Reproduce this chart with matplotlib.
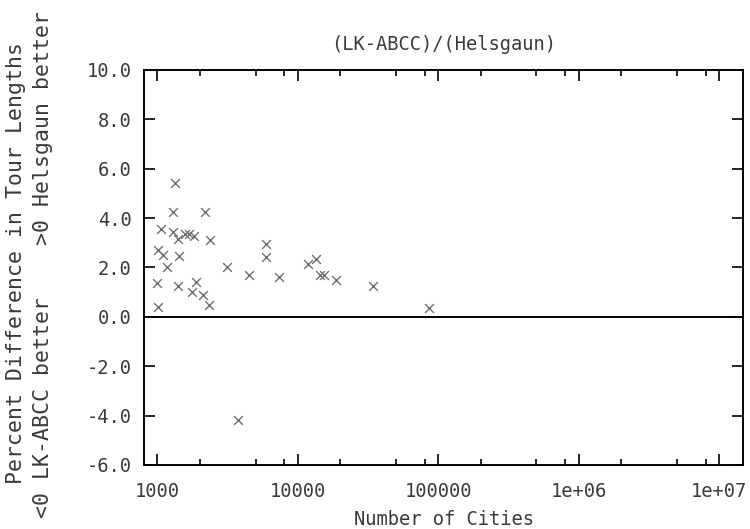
import matplotlib
matplotlib.use("Agg")
import matplotlib.pyplot as plt
import numpy as np
from matplotlib.ticker import FixedLocator, FixedFormatter

# Data: number of cities vs percent difference in tour lengths
cities = [1337, 1300, 2188, 1063, 1300, 1412, 1575, 1689, 1827, 2375,
          1007, 1104, 1435, 1178, 3126, 5957, 5957, 4508, 7370, 990,
          1397, 1888, 1758, 2108, 2334, 1016, 11912, 13520, 14280, 15250,
          18790, 34270, 86490, 3776]
pct_diff = [5.41, 4.24, 4.24, 3.56, 3.42, 3.15, 3.37, 3.37, 3.28, 3.09,
            2.72, 2.52, 2.45, 2.02, 2.02, 2.96, 2.42, 1.71, 1.62, 1.35,
            1.26, 1.40, 0.99, 0.90, 0.47, 0.39, 2.14, 2.36, 1.69, 1.69,
            1.48, 1.24, 0.36, -4.18]

x_major = [1000, 10000, 100000, 1000000, 10000000]
x_major_labels = ["1000", "10000", "100000", "1e+06", "1e+07"]
y_major = [-6, -4, -2, 0, 2, 4, 6, 8, 10]
y_major_labels = ["-6.0", "-4.0", "-2.0", "0.0", "2.0", "4.0", "6.0", "8.0", "10.0"]

title = "(LK-ABCC)/(Helsgaun)"
xlabel = "Number of Cities"
ylabel1 = "Percent Difference in Tour Lengths"
ylabel2 = "<0 LK-ABCC better    >0 Helsgaun better"

FONT = "DejaVu Sans Mono"
TXT = "#3a3a3a"

fig = plt.figure(figsize=(7.5, 5.29), dpi=100)
ax = fig.add_axes([0.192, 0.121, 0.799, 0.747])

ax.set_xscale("log")
ax.set_xlim(10 ** 2.905, 10 ** 7.171)
ax.set_ylim(-6, 10)

ax.scatter(cities, pct_diff, marker="x", s=40, color="#707070", linewidths=1.0, zorder=3)
ax.axhline(0, color="black", lw=1.4, zorder=2)

minor = []
for d in [1e2, 1e3, 1e4, 1e5, 1e6, 1e7]:
    for m in (2, 5, 8):
        minor.append(m * d)
ax.xaxis.set_major_locator(FixedLocator(x_major))
ax.xaxis.set_major_formatter(FixedFormatter(x_major_labels))
ax.xaxis.set_minor_locator(FixedLocator(minor))
ax.xaxis.set_minor_formatter(FixedFormatter([""] * len(minor)))
ax.yaxis.set_major_locator(FixedLocator(y_major))
ax.yaxis.set_major_formatter(FixedFormatter(y_major_labels))

ax.tick_params(axis="both", which="major", direction="in", length=8, width=1.2,
               top=True, right=True, labelsize=13.5, labelcolor=TXT, color="black")
ax.tick_params(axis="x", which="minor", direction="in", length=4.5, width=1.2,
               top=True, bottom=True, color="black")
ax.tick_params(axis="x", which="major", pad=12)
ax.tick_params(axis="y", which="major", pad=9)
for lab in ax.get_xticklabels() + ax.get_yticklabels():
    lab.set_family(FONT)

for s in ax.spines.values():
    s.set_linewidth(1.4)
    s.set_color("black")

ax.set_title(title, fontsize=13.5, family=FONT, color=TXT, pad=14)
ax.set_xlabel(xlabel, fontsize=13.5, family=FONT, color=TXT, labelpad=7)

fig.text(0.021, 0.503, ylabel1, rotation=90, ha="center", va="center",
         fontsize=15.5, family=FONT, color=TXT)
fig.text(0.058, 0.50, ylabel2, rotation=90, ha="center", va="center",
         fontsize=15.5, family=FONT, color=TXT)

fig.savefig("out.png", dpi=100, facecolor="white")
